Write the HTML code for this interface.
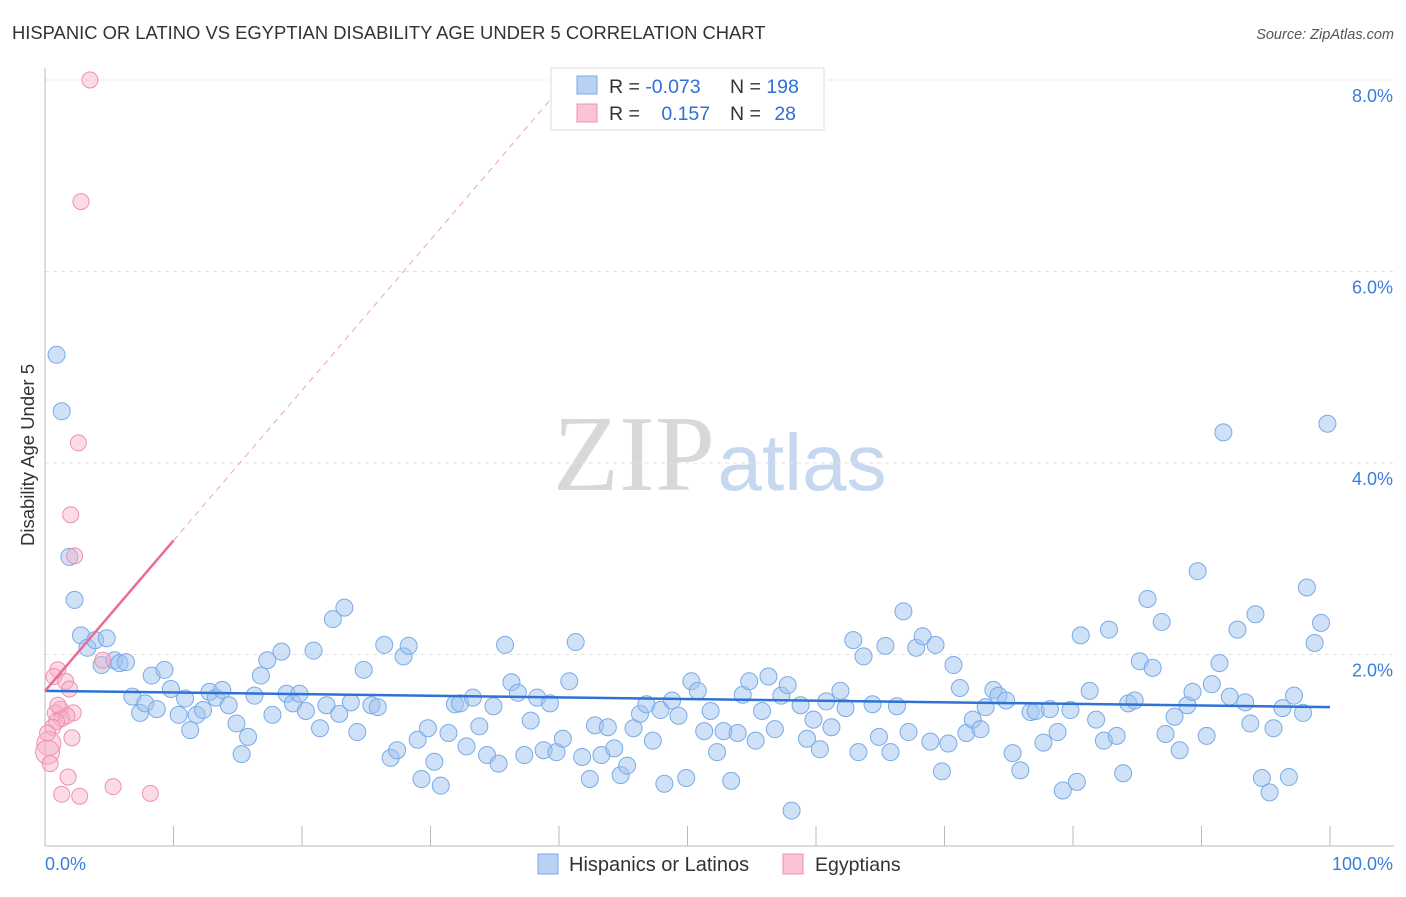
<!DOCTYPE html>
<html><head><meta charset="utf-8"><style>
body{margin:0;background:#fff;font-family:"Liberation Sans",sans-serif;}
svg text{font-family:"Liberation Sans",sans-serif;}
</style></head><body>
<svg id="chart" width="1406" height="892" viewBox="0 0 1406 892">
<text x="12" y="39" font-size="18.4" fill="#333">HISPANIC OR LATINO VS EGYPTIAN DISABILITY AGE UNDER 5 CORRELATION CHART</text>
<text x="1394" y="39" font-size="14.5" fill="#555" font-style="italic" text-anchor="end">Source: ZipAtlas.com</text>
<g>
<text x="634" y="490" font-size="108" fill="#d8d8d8" text-anchor="middle" style="font-family:'Liberation Serif',serif">ZIP</text>
<text x="802" y="490" font-size="80" fill="#c6d8ef" text-anchor="middle">atlas</text>
</g>
<g id="grid"></g>
<g id="axes"></g>
<g id="marks"></g>
<text transform="translate(34,455) rotate(-90)" font-size="18.5" fill="#333" text-anchor="middle">Disability Age Under 5</text>
<g>
<rect x="551" y="68" width="273" height="62" fill="#fff" stroke="#ddd"/>
<rect x="577" y="76" width="20" height="18" fill="#b9d1f3" stroke="#7aaae8"/>
<rect x="577" y="104" width="20" height="18" fill="#f9c5d6" stroke="#f08fb0"/>
<text x="609" y="93" font-size="19.5" fill="#333">R = <tspan fill="#2f6fd6">-0.073</tspan></text>
<text x="730" y="93" font-size="19.5" fill="#333">N = <tspan fill="#2f6fd6">198</tspan></text>
<text x="609" y="120" font-size="19.5" fill="#333">R = <tspan fill="#2f6fd6" dx="16">0.157</tspan></text>
<text x="730" y="120" font-size="19.5" fill="#333">N = <tspan fill="#2f6fd6" dx="8">28</tspan></text>
</g>
<g>
<rect x="538" y="854" width="20" height="20" fill="#b9d1f3" stroke="#7aaae8"/>
<text x="569" y="871" font-size="20" fill="#333">Hispanics or Latinos</text>
<rect x="783" y="854" width="20" height="20" fill="#f9c5d6" stroke="#f08fb0"/>
<text x="815" y="871" font-size="19.5" fill="#333">Egyptians</text>
</g>
</svg>
<script>
const yTicks=[2,4,6,8];
const yTickLabels=["2.0%","4.0%","6.0%","8.0%"];
const xTickLabels=["0.0%","100.0%"];
const blueX=[0.9,1.3,1.9,2.3,2.8,3.3,3.9,4.4,4.8,5.4,5.8,6.3,6.8,7.4,7.8,8.3,8.7,9.3,9.8,10.4,10.9,11.3,11.8,12.3,12.8,13.3,13.8,14.3,14.9,15.3,15.8,16.3,16.8,17.3,17.7,18.4,18.8,19.3,19.8,20.3,20.9,21.4,21.9,22.4,22.9,23.3,23.8,24.3,24.8,25.4,25.9,26.4,26.9,27.4,27.9,28.3,29.0,29.3,29.8,30.3,30.8,31.4,31.9,32.3,32.8,33.3,33.8,34.4,34.9,35.3,35.8,36.3,36.8,37.3,37.8,38.3,38.8,39.3,39.8,40.3,40.8,41.3,41.8,42.4,42.8,43.3,43.8,44.3,44.8,45.3,45.8,46.3,46.8,47.3,47.9,48.2,48.8,49.3,49.9,50.3,50.8,51.3,51.8,52.3,52.8,53.4,53.9,54.3,54.8,55.3,55.8,56.3,56.8,57.3,57.8,58.1,58.8,59.3,59.8,60.3,60.8,61.2,61.9,62.3,62.9,63.3,63.7,64.4,64.9,65.4,65.8,66.3,66.8,67.2,67.8,68.3,68.9,69.3,69.8,70.3,70.7,71.2,71.7,72.2,72.8,73.2,73.8,74.2,74.8,75.3,75.9,76.7,77.1,77.7,78.2,78.8,79.2,79.8,80.3,80.6,81.3,81.8,82.4,82.8,83.4,83.9,84.3,84.8,85.2,85.8,86.2,86.9,87.2,87.9,88.3,88.9,89.3,89.7,90.4,90.8,91.4,91.7,92.2,92.8,93.4,93.8,94.2,94.7,95.3,95.6,96.3,96.8,97.2,97.9,98.2,98.8,99.3,99.8];
const blueY=[5.13,4.54,3.02,2.57,2.20,2.07,2.15,1.89,2.17,1.94,1.91,1.92,1.56,1.39,1.49,1.78,1.43,1.84,1.64,1.37,1.54,1.21,1.37,1.42,1.61,1.55,1.63,1.47,1.28,0.96,1.14,1.57,1.78,1.94,1.37,2.03,1.59,1.49,1.59,1.41,2.04,1.23,1.47,2.37,1.38,2.49,1.50,1.19,1.84,1.47,1.45,2.10,0.92,1.00,1.98,2.09,1.11,0.70,1.23,0.88,0.63,1.18,1.48,1.49,1.04,1.55,1.25,0.95,1.46,0.86,2.10,1.71,1.60,0.95,1.31,1.55,1.00,1.49,0.98,1.12,1.72,2.13,0.93,0.70,1.26,0.95,1.24,1.02,0.74,0.84,1.23,1.38,1.48,1.10,1.42,0.65,1.52,1.36,0.71,1.72,1.62,1.20,1.41,0.98,1.20,0.68,1.18,1.58,1.72,1.10,1.41,1.77,1.22,1.57,1.68,0.37,1.47,1.12,1.32,1.01,1.51,1.24,1.62,1.44,2.15,0.98,1.98,1.48,1.14,2.09,0.98,1.46,2.45,1.19,2.07,2.19,1.09,2.10,0.78,1.07,1.89,1.65,1.18,1.32,1.22,1.45,1.63,1.57,1.52,0.97,0.79,1.40,1.41,1.08,1.43,1.19,0.58,1.42,0.67,2.20,1.62,1.32,1.10,2.26,1.15,0.76,1.49,1.52,1.93,2.58,1.86,2.34,1.17,1.35,1.00,1.47,1.61,2.87,1.15,1.69,1.91,4.32,1.56,2.26,1.50,1.28,2.42,0.71,0.56,1.23,1.44,0.72,1.57,1.39,2.70,2.12,2.33,4.41];
const pinkX=[3.5,2.8,2.6,2.0,2.3,4.5,1.0,0.7,1.6,1.9,1.2,2.2,0.8,1.3,1.7,0.9,0.6,2.1,0.3,0.2,0.4,1.8,1.3,2.7,5.3,8.2,0.2,1.0];
const pinkY=[8.00,6.73,4.21,3.46,3.03,1.94,1.84,1.77,1.72,1.64,1.43,1.39,1.39,1.33,1.36,1.30,1.24,1.13,1.07,0.98,0.86,0.72,0.54,0.52,0.62,0.55,1.18,1.47];
const pinkR=[8,8,8,8,8,8,8,8,8,8,8,8,8,8,8,8,8,8,12,12,8,8,8,8,8,8,8,8];
const blueTrend=[1.62,1.45];
const pinkTrend=[1.62,3.19];

const NS="http://www.w3.org/2000/svg";
const X0=45,X1=1330,Y0=846,YS=95.75;
const sx=v=>X0+(X1-X0)*v/100;
const sy=v=>Y0-v*YS;
function mk(tag,attrs,parent){const e=document.createElementNS(NS,tag);for(const k in attrs)e.setAttribute(k,attrs[k]);parent.appendChild(e);return e;}
const grid=document.getElementById('grid'),axes=document.getElementById('axes'),marks=document.getElementById('marks');
yTicks.forEach((t,i)=>{
 const l=mk('line',{x1:45,x2:1394,y1:sy(t),y2:sy(t),stroke:'#e2e2e2','stroke-dasharray':'4,4'},grid);
 
 
 const tx=mk('text',{x:1393,y:sy(t)+22,'font-size':18,fill:'#3b7ddd','text-anchor':'end'},axes);
 tx.textContent=yTickLabels[i];
 
 
});
const ya=mk('line',{x1:45,x2:45,y1:68,y2:846,stroke:'#bbb'},axes);


const xa=mk('line',{x1:45,x2:1394,y1:846,y2:846,stroke:'#bbb'},axes);


for(let i=1;i<=10;i++){
 const t=mk('line',{x1:sx(i*10),x2:sx(i*10),y1:826,y2:846,stroke:'#bbb'},axes);
 
 
}
const xl0=mk('text',{x:45,y:870,'font-size':18,fill:'#3b7ddd'},axes);
xl0.textContent=xTickLabels[0];


const xl1=mk('text',{x:1393,y:870,'font-size':18,fill:'#3b7ddd','text-anchor':'end'},axes);
xl1.textContent=xTickLabels[1];



blueX.forEach((x,i)=>{
 const c=mk('circle',{cx:sx(x),cy:sy(blueY[i]),r:8.5,fill:'rgba(160,195,240,0.5)',stroke:'#7aaae8','stroke-width':1},marks);
 
 
});
pinkX.forEach((x,i)=>{
 const c=mk('circle',{cx:sx(x),cy:sy(pinkY[i]),r:pinkR[i],fill:'rgba(247,175,200,0.45)',stroke:'#f08fb0','stroke-width':1},marks);
 
 
});
const bt=mk('line',{x1:sx(0),y1:sy(blueTrend[0]),x2:sx(100),y2:sy(blueTrend[1]),stroke:'#2f72d6','stroke-width':2.5},marks);


const slope=(pinkTrend[1]-pinkTrend[0])/10;
const xEnd=(7.95-pinkTrend[0])/slope;
const pd=mk('line',{x1:sx(10),y1:sy(pinkTrend[1]),x2:sx(xEnd),y2:sy(pinkTrend[0]+slope*xEnd),stroke:'#f2a0bb','stroke-width':1,'stroke-dasharray':'6,5'},marks);


const pt=mk('line',{x1:sx(0),y1:sy(pinkTrend[0]),x2:sx(10),y2:sy(pinkTrend[1]),stroke:'#ec6b96','stroke-width':2.5},marks);


</script>
</body></html>
